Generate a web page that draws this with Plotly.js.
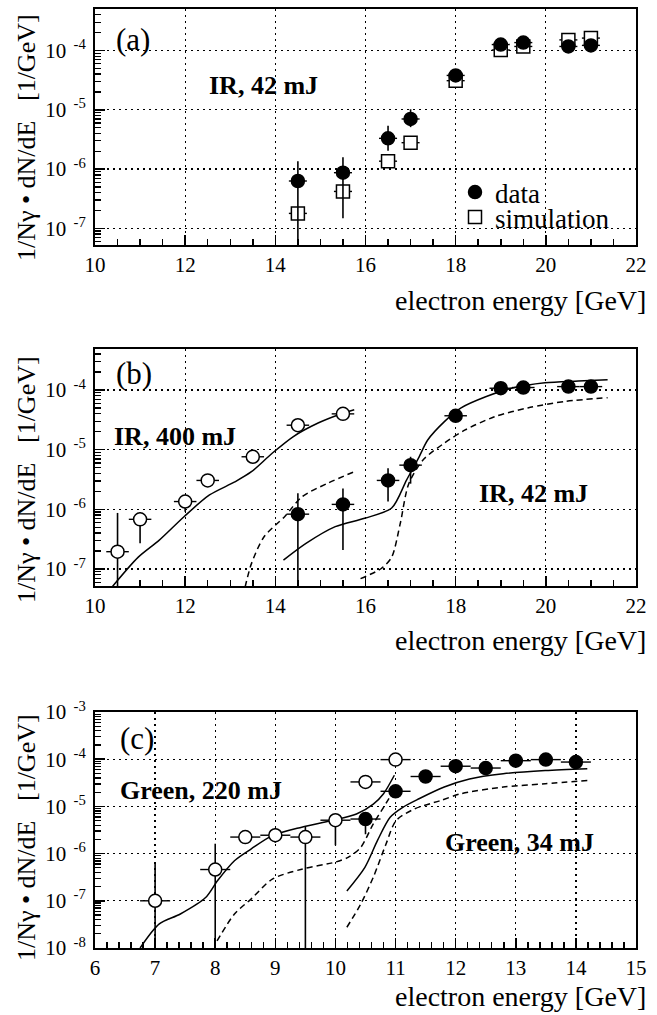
<!DOCTYPE html>
<html>
<head>
<meta charset="utf-8">
<script src="https://cdn.plot.ly/plotly-3.0.1.min.js"></script>
<style>html,body{margin:0;padding:0;background:#fff;}#chart{width:657px;height:1015px;}</style>
</head>
<body>
<div id="chart"></div>
<script>
// ---------- Panel (a): IR, 42 mJ ----------
const aEnergy  = [14.5, 15.5, 16.5, 17, 18, 19, 19.5, 20.5, 21];
const aData    = [6.3e-7, 8.7e-7, 3.3e-6, 7.0e-6, 3.8e-5, 1.26e-4, 1.36e-4, 1.17e-4, 1.22e-4];
const aDataHi  = [1.36e-6, 1.58e-6, 5.4e-6, 1.02e-5, 4.3e-5, 1.35e-4, 1.45e-4, 1.25e-4, 1.30e-4];
const aDataLo  = [1e-9, 1.48e-7, 2.04e-6, 5.1e-6, 3.35e-5, 1.17e-4, 1.27e-4, 1.09e-4, 1.14e-4];
const aSim     = [1.79e-7, 4.2e-7, 1.36e-6, 2.79e-6, 3.1e-5, 1.02e-4, 1.17e-4, 1.51e-4, 1.62e-4];

// ---------- Panel (b): IR, 42 mJ and IR, 400 mJ ----------
const b42Energy  = [14.5, 15.5, 16.5, 17, 18, 19, 19.5, 20.5, 21];
const b42Data    = [8.3e-7, 1.21e-6, 3.05e-6, 5.5e-6, 3.7e-5, 1.07e-4, 1.10e-4, 1.14e-4, 1.14e-4];
const b42Hi      = [1.86e-6, 2.24e-6, 4.9e-6, 7.6e-6, 4.1e-5, 1.12e-4, 1.15e-4, 1.19e-4, 1.19e-4];
const b42Lo      = [1e-9, 2.09e-7, 1.35e-6, 2.69e-6, 3.35e-5, 1.02e-4, 1.05e-4, 1.09e-4, 1.09e-4];
const b400Energy = [10.5, 11, 12, 12.5, 13.5, 14.5, 15.5];
const b400Data   = [1.95e-7, 6.8e-7, 1.35e-6, 3.05e-6, 7.6e-6, 2.57e-5, 3.98e-5];
const b400Hi     = [8.7e-7, 8.9e-7, 1.6e-6, 3.05e-6, 7.6e-6, 2.57e-5, 3.98e-5];
const b400Lo     = [1e-9, 2.7e-7, 9.1e-7, 3.05e-6, 7.6e-6, 2.57e-5, 3.98e-5];

const b400SolidE = [10.38, 10.96, 11.42, 11.98, 12.54, 13.1, 13.47, 13.93, 14.4, 14.96, 15.42, 15.75];
const b400SolidV = [5.01e-8, 1.58e-7, 3.02e-7, 7.59e-7, 1.74e-6, 2.88e-6, 4.27e-6, 8.71e-6, 1.66e-5, 2.82e-5, 3.89e-5, 4.68e-5];
const b400DashE  = [13.33, 13.47, 13.75, 14.21, 14.59, 15.14, 15.75];
const b400DashV  = [5.0e-8, 1.23e-7, 3.47e-7, 7.6e-7, 1.62e-6, 2.69e-6, 4.27e-6];
const b42SolidE  = [14.18, 14.68, 15.33, 15.98, 16.58, 16.91, 17.19, 17.38, 17.75, 18.12, 18.68, 19.24, 19.98, 20.72, 21.37];
const b42SolidV  = [1.41e-7, 2.69e-7, 5.13e-7, 7.08e-7, 1.05e-6, 3.09e-6, 7.59e-6, 1.45e-5, 2.95e-5, 5.01e-5, 7.76e-5, 1.07e-4, 1.32e-4, 1.41e-4, 1.48e-4];
const b42DashE   = [15.89, 16.35, 16.58, 16.77, 16.96, 17.28, 17.75, 18.21, 18.86, 19.6, 20.44, 21.37];
const b42DashV   = [6.9e-8, 1.02e-7, 1.58e-7, 5.75e-7, 2.69e-6, 6.76e-6, 1.29e-5, 2.14e-5, 3.55e-5, 5.01e-5, 6.46e-5, 7.41e-5];

// ---------- Panel (c): Green, 34 mJ and Green, 220 mJ ----------
const c220Energy = [7, 8, 8.5, 9, 9.5, 10, 10.5, 11];
const c220Data   = [1.0e-7, 4.6e-7, 2.24e-6, 2.45e-6, 2.24e-6, 5.1e-6, 3.3e-5, 9.8e-5];
const c220Hi     = [6.5e-7, 1.62e-6, 2.24e-6, 3.5e-6, 3.7e-6, 6.9e-6, 3.3e-5, 9.8e-5];
const c220Lo     = [1e-9, 1e-9, 2.24e-6, 1.7e-6, 1e-9, 1.5e-6, 3.3e-5, 9.8e-5];
const c34Energy  = [10.5, 11, 11.5, 12, 12.5, 13, 13.5, 14];
const c34Data    = [5.4e-6, 2.09e-5, 4.3e-5, 7.1e-5, 6.5e-5, 9.3e-5, 9.8e-5, 8.7e-5];
const c34Hi      = [7.4e-6, 2.09e-5, 4.3e-5, 7.1e-5, 6.5e-5, 9.3e-5, 9.8e-5, 8.7e-5];
const c34Lo      = [2.57e-6, 2.09e-5, 4.3e-5, 7.1e-5, 6.5e-5, 9.3e-5, 9.8e-5, 8.7e-5];

const c220SolidE = [6.75, 7.07, 7.42, 7.84, 8.04, 8.32, 8.6, 8.95, 9.44, 9.93, 10.35, 10.63, 10.8, 10.98];
const c220SolidV = [1.0e-8, 3.24e-8, 5.25e-8, 1.17e-7, 2.69e-7, 7.08e-7, 1.26e-6, 2.4e-6, 3.63e-6, 5.01e-6, 6.92e-6, 1.12e-5, 1.86e-5, 4.57e-5];
const c220DashE  = [8.03, 8.32, 8.6, 8.95, 9.44, 10.0, 10.21, 10.42, 10.63, 10.8, 10.94];
const c220DashV  = [1.41e-8, 5.25e-8, 1.10e-7, 2.88e-7, 4.68e-7, 6.61e-7, 8.32e-7, 1.35e-6, 4.27e-6, 9.55e-6, 1.86e-5];
const c34SolidE  = [10.19, 10.49, 10.7, 10.91, 11.12, 11.39, 11.81, 12.23, 12.79, 13.49, 14.19];
const c34SolidV  = [1.62e-7, 5.13e-7, 1.91e-6, 5.89e-6, 9.55e-6, 1.45e-5, 2.57e-5, 3.8e-5, 4.9e-5, 5.75e-5, 6.31e-5];
const c34DashE   = [10.19, 10.42, 10.63, 10.84, 11.01, 11.32, 11.74, 12.09, 12.79, 13.49, 14.19];
const c34DashV   = [2.75e-8, 8.51e-8, 3.16e-7, 1.58e-6, 5.01e-6, 8.91e-6, 1.32e-5, 1.86e-5, 2.57e-5, 3.02e-5, 3.55e-5];

// ---------- tick labels ----------
const decadesAB = [1e-7, 1e-6, 1e-5, 1e-4];
const decadesAB_text = ['10<sup>\u2002-7</sup>', '10<sup>\u2002-6</sup>', '10<sup>\u2002-5</sup>', '10<sup>\u2002-4</sup>'];
const decadesC = [1e-8, 1e-7, 1e-6, 1e-5, 1e-4, 1e-3];
const decadesC_text = ['10<sup>\u2002-8</sup>', '10<sup>\u2002-7</sup>', '10<sup>\u2002-6</sup>', '10<sup>\u2002-5</sup>', '10<sup>\u2002-4</sup>', '10<sup>\u2002-3</sup>'];

const yTitle = '1/N\u03b3 \u2022 dN/dE\u00a0\u00a0\u00a0[1/GeV]';
const xTitle = 'electron energy [GeV]';

// ---------- helpers (styling only) ----------
const FONT = '"Liberation Serif", "Times New Roman", Times, serif';
const W = 657, H = 1015;
const px = v => v / W;
const py = v => 1 - v / H;

function minorLog(lo, hi) {
  const out = [];
  for (let n = lo; n <= hi; n++) for (let k = 2; k <= 9; k++) out.push(k * Math.pow(10, n));
  return out;
}

function pointTrace(x, y, hi, lo, xa, ya, sym, fill, xerr, name, legend) {
  return {
    type: 'scatter', mode: 'markers', x: x, y: y, xaxis: xa, yaxis: ya,
    name: name || '', showlegend: !!name, legend: legend || 'legend',
    marker: {symbol: sym, size: 13, color: fill, line: {color: '#000', width: 1.5}},
    error_y: hi ? {type: 'data', symmetric: false,
      array: y.map((v, i) => hi[i] - v), arrayminus: y.map((v, i) => v - lo[i]),
      width: 0, thickness: 1.6, color: '#000'} : {visible: false},
    error_x: {type: 'constant', value: xerr, width: 0, thickness: 1.4, color: '#000'},
    cliponaxis: true
  };
}
function curve(x, y, xa, ya, dash) {
  return {type: 'scatter', mode: 'lines', x: x, y: y, xaxis: xa, yaxis: ya, showlegend: false,
    line: {color: '#000', width: 1.5, dash: dash ? '6px,4px' : 'solid', shape: 'spline', smoothing: 0.8},
    hoverinfo: 'skip'};
}

const traces = [
  // panel a
  pointTrace(aEnergy, aSim, null, null, 'x', 'y', 'square', '#fff', 0.2, 'simulation', 'legend2'),
  pointTrace(aEnergy, aData, aDataHi, aDataLo, 'x', 'y', 'circle', '#000', 0.2, 'data', 'legend'),
  // panel b
  curve(b400SolidE, b400SolidV, 'x2', 'y2', false),
  curve(b400DashE, b400DashV, 'x2', 'y2', true),
  curve(b42SolidE, b42SolidV, 'x2', 'y2', false),
  curve(b42DashE, b42DashV, 'x2', 'y2', true),
  pointTrace(b400Energy, b400Data, b400Hi, b400Lo, 'x2', 'y2', 'circle', '#fff', 0.25),
  pointTrace(b42Energy, b42Data, b42Hi, b42Lo, 'x2', 'y2', 'circle', '#000', 0.25),
  // panel c
  curve(c220SolidE, c220SolidV, 'x3', 'y3', false),
  curve(c220DashE, c220DashV, 'x3', 'y3', true),
  curve(c34SolidE, c34SolidV, 'x3', 'y3', false),
  curve(c34DashE, c34DashV, 'x3', 'y3', true),
  pointTrace(c220Energy, c220Data, c220Hi, c220Lo, 'x3', 'y3', 'circle', '#fff', 0.25),
  pointTrace(c34Energy, c34Data, c34Hi, c34Lo, 'x3', 'y3', 'circle', '#000', 0.25)
];

const tickFont = {family: FONT, size: 21, color: '#000'};
function xAxis(range, dtick, mdt, anchor) {
  return {
    domain: [px(95), px(636)], anchor: anchor, range: range, type: 'linear',
    tickmode: 'linear', tick0: 0, dtick: dtick, ticks: 'inside', ticklen: 10, tickwidth: 1.5, tickcolor: '#000',
    minor: {tickmode: 'linear', tick0: 0, dtick: mdt, ticks: 'inside', ticklen: 6, tickwidth: 1.5, tickcolor: '#000', showgrid: false},
    showgrid: true, gridcolor: '#000', gridwidth: 1.3, griddash: '2px,4px',
    showline: true, linecolor: '#000', linewidth: 2, mirror: true, zeroline: false,
    tickfont: tickFont, ticklabelstandoff: 0, fixedrange: true
  };
}
function yAxis(range, vals, text, minorVals, anchor, top, bottom) {
  return {
    domain: [py(bottom), py(top)], anchor: anchor, type: 'log', range: range,
    tickmode: 'array', tickvals: vals, ticktext: text, ticks: 'inside', ticklen: 10, tickwidth: 1.5, tickcolor: '#000',
    minor: {tickmode: 'array', tickvals: minorVals, ticks: 'inside', ticklen: 6, tickwidth: 1.3, tickcolor: '#000', showgrid: false},
    showgrid: true, gridcolor: '#000', gridwidth: 1.3, griddash: '2px,4px',
    showline: true, linecolor: '#000', linewidth: 2, mirror: true, zeroline: false,
    tickfont: tickFont, ticklabelstandoff: 3, fixedrange: true
  };
}

function label(text, x, y, size, bold, anchor) {
  return {text: bold ? '<b>' + text + '</b>' : text, xref: 'paper', yref: 'paper', x: px(x), y: py(y),
    xanchor: anchor || 'left', yanchor: 'middle', showarrow: false,
    font: {family: FONT, size: size, color: '#000'}};
}
function yLabel(y) {
  return {text: yTitle, xref: 'paper', yref: 'paper', x: px(26), y: py(y), textangle: -90,
    xanchor: 'center', yanchor: 'middle', showarrow: false, font: {family: FONT, size: 26, color: '#000'}};
}

const layout = {
  width: W, height: H, margin: {l: 0, r: 0, t: 0, b: 0},
  paper_bgcolor: '#fff', plot_bgcolor: '#fff', font: {family: FONT, color: '#000'},
  xaxis:  xAxis([10, 22], 2, 0.5, 'y'),
  yaxis:  yAxis([-7.28, -3.30], decadesAB, decadesAB_text, minorLog(-8, -4), 'x', 9, 245),
  xaxis2: xAxis([10, 22], 2, 0.5, 'y2'),
  yaxis2: yAxis([-7.285, -3.313], decadesAB, decadesAB_text, minorLog(-8, -4), 'x2', 349, 586),
  xaxis3: xAxis([6, 15], 1, 0.2, 'y3'),
  yaxis3: yAxis([-8, -3], decadesC, decadesC_text, minorLog(-8, -4), 'x3', 712, 948),
  legend:  {x: px(455), y: py(168), xanchor: 'left', yanchor: 'top', bgcolor: 'rgba(0,0,0,0)', borderwidth: 0,
            font: {family: FONT, size: 27, color: '#000'}, itemwidth: 30, tracegroupgap: 0},
  legend2: {x: px(455), y: py(193), xanchor: 'left', yanchor: 'top', bgcolor: 'rgba(0,0,0,0)', borderwidth: 0,
            font: {family: FONT, size: 27, color: '#000'}, itemwidth: 30, tracegroupgap: 0},
  annotations: [
    label('(a)', 114, 40, 31, false),
    label('IR, 42 mJ', 207, 86, 26, true),
    label('(b)', 114, 373, 31, false),
    label('IR, 400 mJ', 112, 437, 26, true),
    label('IR, 42 mJ', 477, 493, 26, true),
    label('(c)', 118, 738, 31, false),
    label('Green, 220 mJ', 118, 790, 26, true),
    label('Green, 34 mJ', 443, 842, 26, true),
    label(xTitle, 648, 300, 28, false, 'right'),
    label(xTitle, 648, 640, 28, false, 'right'),
    label(xTitle, 648, 996, 28, false, 'right'),
    yLabel(138), yLabel(480), yLabel(838)
  ],
  showlegend: true
};

Plotly.newPlot('chart', traces, layout, {staticPlot: true, displayModeBar: false});
</script>
</body>
</html>
